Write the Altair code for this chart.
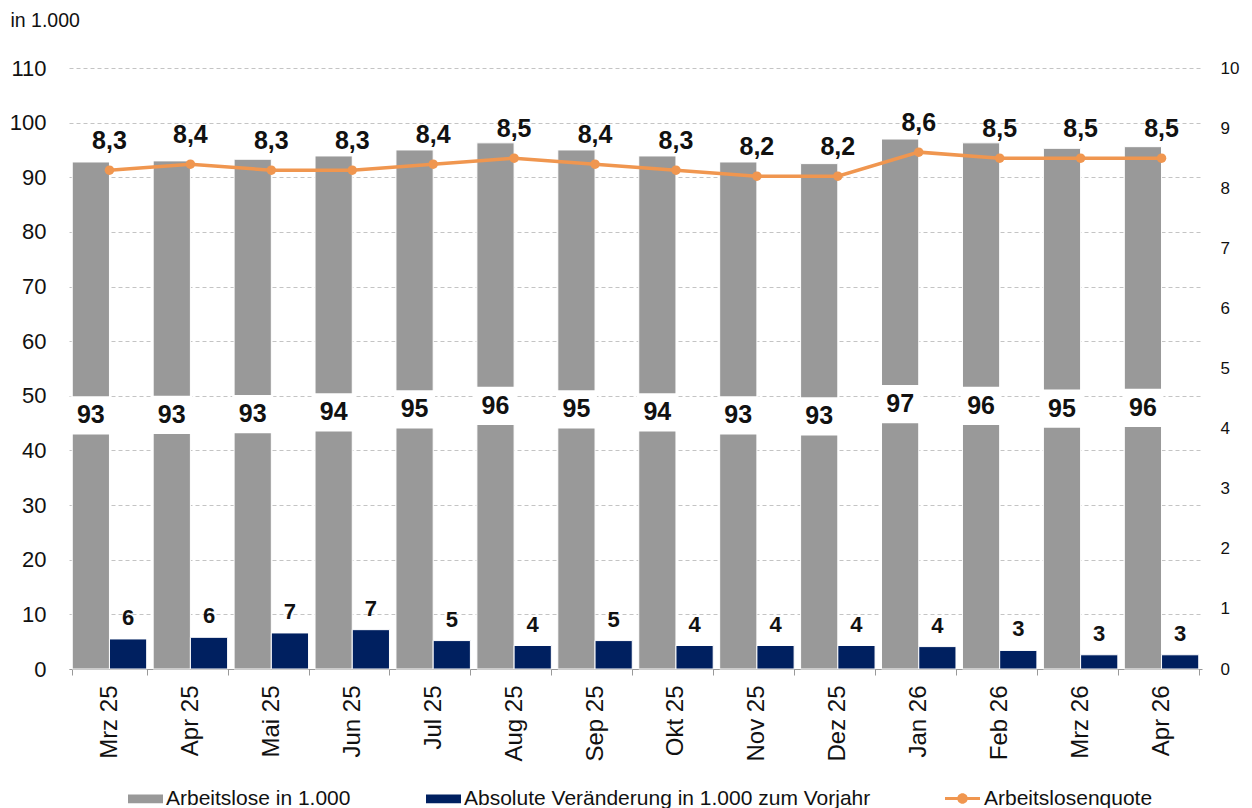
import altair as alt
import pandas as pd

# ---------------- data ----------------
months = ["Mrz 25", "Apr 25", "Mai 25", "Jun 25", "Jul 25", "Aug 25", "Sep 25",
          "Okt 25", "Nov 25", "Dez 25", "Jan 26", "Feb 26", "Mrz 26", "Apr 26"]
arbeitslose = [92.8, 93.0, 93.3, 93.9, 95.0, 96.3, 95.0, 93.9, 92.8, 92.5, 97.0, 96.3, 95.3, 95.6]
veraenderung = [5.5, 5.8, 6.6, 7.2, 5.2, 4.3, 5.2, 4.3, 4.3, 4.3, 4.1, 3.4, 2.6, 2.6]
quote = [8.3, 8.4, 8.3, 8.3, 8.4, 8.5, 8.4, 8.3, 8.2, 8.2, 8.6, 8.5, 8.5, 8.5]

S1 = "Arbeitslose in 1.000"
S2 = "Absolute Veränderung in 1.000 zum Vorjahr"
S3 = "Arbeitslosenquote"

left_ticks = list(range(0, 111, 10))
right_ticks = list(range(0, 11))

FONT = "Liberation Sans"
GRAY = "#999999"
NAVY = "#002060"
ORANGE = "#F0964F"
TXT = "#111111"

wide = pd.DataFrame({"Monat": months, "al": arbeitslose, "ver": veraenderung, "quote": quote})
wide["s1"] = S1
wide["s2"] = S2
wide["s3"] = S3

long = pd.DataFrame({
    "Monat": months * 2,
    "Serie": [S1] * len(months) + [S2] * len(months),
    "Wert": arbeitslose + veraenderung,
})

# ---------------- encodings ----------------
x_axis = alt.Axis(title=None, labelAngle=270, labelFontSize=24, labelFont=FONT, labelColor=TXT,
                  tickBand="extent", tickSize=6, tickColor="#999999", domainColor="#999999",
                  labelPadding=10, grid=False, labelAlign="right", labelBaseline="middle")
x_scale = alt.Scale(paddingInner=0.08, paddingOuter=0.04)


def X():
    return alt.X("Monat:N", sort=months, scale=x_scale, axis=x_axis)


off_scale = alt.Scale(domain=[S1, S2], paddingInner=0)

y_left_scale = alt.Scale(domain=[0, 110], nice=False, zero=True)
y_right_scale = alt.Scale(domain=[0, 10], nice=False, zero=True)

left_axis = alt.Axis(values=left_ticks, grid=True, gridColor="#c4c4c4", gridDash=[4, 3], gridWidth=1,
                     domain=False, ticks=False, tickSize=0, labelFontSize=22, labelFont=FONT,
                     labelColor=TXT, labelPadding=23,
                     title="in 1.000", titleAngle=0, titleX=-59, titleY=-48, titleAlign="left",
                     titleBaseline="middle", titleFontSize=19.5, titleFontWeight="normal",
                     titleFont=FONT, titleColor=TXT)
right_axis = alt.Axis(orient="right", values=right_ticks, grid=False, domain=False, ticks=False,
                      tickSize=0, labelFontSize=17, labelFont=FONT, labelColor=TXT,
                      labelPadding=18, title=None)

bar_legend = alt.Legend(title=None, orient="none", legendX=59, legendY=713, direction="horizontal",
                        symbolType="M-1,-0.25H1V0.25H-1Z", symbolSize=1225, symbolStrokeWidth=0,
                        labelFontSize=21, labelFont=FONT, labelColor=TXT, labelOffset=3,
                        labelLimit=600, columnPadding=75, padding=0)
line_legend = alt.Legend(title=None, orient="none", legendX=876, legendY=713,
                         symbolType="M-1,-0.09H1V0.09H-1Z M0.3,0A0.3,0.3 0 1,1 -0.3,0A0.3,0.3 0 1,1 0.3,0Z",
                         symbolSize=1225, symbolStrokeWidth=0,
                         labelFontSize=21, labelFont=FONT, labelColor=TXT, labelOffset=4,
                         labelLimit=600, padding=0)


def YL(field):
    return alt.Y(field, scale=y_left_scale, axis=left_axis)


def YR(field):
    return alt.Y(field, scale=y_right_scale, axis=right_axis)


# ---------------- left-axis layers ----------------
bars = alt.Chart(long).mark_bar(stroke="white", strokeWidth=1).encode(
    x=X(),
    xOffset=alt.XOffset("Serie:N", scale=off_scale),
    y=YL("Wert:Q"),
    color=alt.Color("Serie:N", scale=alt.Scale(domain=[S1, S2], range=[GRAY, NAVY]), legend=bar_legend),
)

boxes = alt.Chart(wide).transform_calculate(
    lo="datum.al / 2 - 3.5", hi="datum.al / 2 + 3.5"
).mark_bar(color="white", width=41).encode(
    x=X(),
    xOffset=alt.XOffset("s1:N", scale=off_scale),
    y=YL("lo:Q"),
    y2="hi:Q",
)

gray_labels = alt.Chart(wide).transform_calculate(
    mid="datum.al / 2", lab="format(round(datum.al), 'd')"
).mark_text(fontSize=25, fontWeight="bold", font=FONT, color=TXT, baseline="middle", align="center").encode(
    x=X(),
    xOffset=alt.XOffset("s1:N", scale=off_scale),
    y=YL("mid:Q"),
    text="lab:N",
)

navy_labels = alt.Chart(wide).transform_calculate(
    lab="format(round(datum.ver), 'd')"
).mark_text(fontSize=22, fontWeight="bold", font=FONT, color=TXT, baseline="middle", align="center", dy=-21).encode(
    x=X(),
    xOffset=alt.XOffset("s2:N", scale=off_scale),
    y=YL("ver:Q"),
    text="lab:N",
)

left = alt.layer(bars, boxes, gray_labels, navy_labels)

# ---------------- right-axis layers ----------------
line = alt.Chart(wide).mark_line(color=ORANGE, strokeWidth=3.5).encode(
    x=X(),
    y=YR("quote:Q"),
)

points = alt.Chart(wide).mark_circle(size=90, opacity=1).encode(
    x=X(),
    y=YR("quote:Q"),
    fill=alt.Fill("s3:N", scale=alt.Scale(domain=[S3], range=[ORANGE]), legend=line_legend),
)

line_labels = alt.Chart(wide).transform_calculate(
    lab="replace(format(datum.quote, '.1f'), '.', ',')"
).mark_text(fontSize=25, fontWeight="bold", font=FONT, color=TXT, baseline="middle", align="center", dy=-29).encode(
    x=X(),
    y=YR("quote:Q"),
    text="lab:N",
)

right = alt.layer(line, points, line_labels)

chart = alt.layer(left, right).resolve_scale(y="independent").properties(
    width=1133,
    height=601,
    padding={"left": 61, "top": 60, "right": 42, "bottom": 139},
    autosize=alt.AutoSizeParams(type="none"),
).configure(font=FONT).configure_view(stroke=None)

chart.save("out.html", embed_options={"renderer": "svg", "actions": False})
